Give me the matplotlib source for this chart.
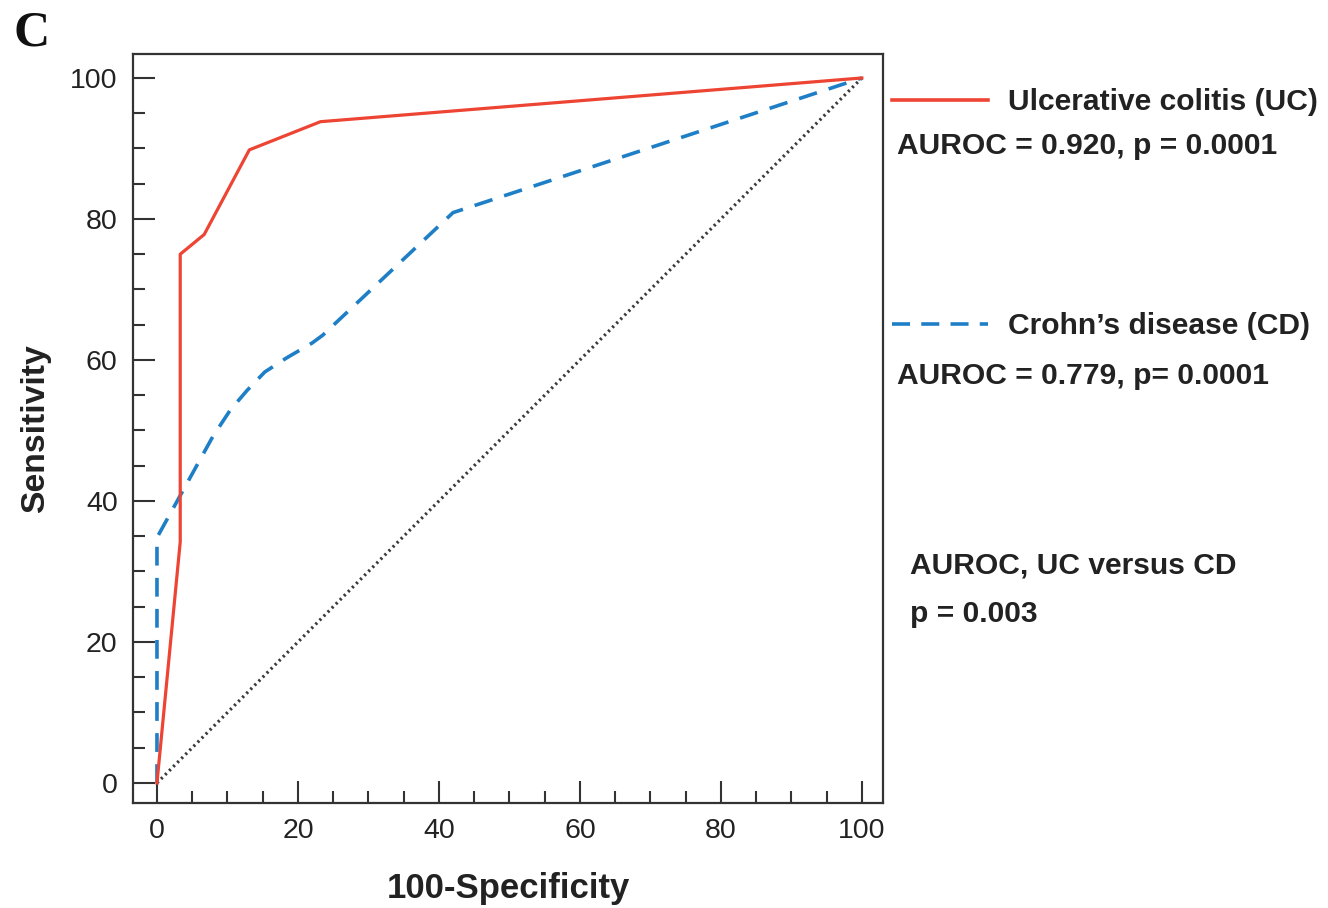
import matplotlib
matplotlib.use("Agg")
import matplotlib.pyplot as plt
from matplotlib.lines import Line2D
from matplotlib.ticker import MultipleLocator

# ---- data ----
uc_x = [0, 3.3, 3.3, 6.7, 13.1, 23.2, 100]
uc_y = [0, 34.2, 75.0, 77.8, 89.8, 93.8, 100]

cd_x = [0, 0, 7.9, 10.4, 12.8, 15.3, 18.4, 22.0, 23.5, 42.0, 100]
cd_y = [0, 34.8, 49.1, 52.9, 55.7, 58.3, 60.3, 62.4, 63.5, 80.9, 100]

ref_x = [0, 100]
ref_y = [0, 100]

x_ticks = [0, 20, 40, 60, 80, 100]
y_ticks = [0, 20, 40, 60, 80, 100]

uc_label = "Ulcerative colitis (UC)"
uc_stat = "AUROC = 0.920, p = 0.0001"
cd_label = "Crohn\u2019s disease (CD)"
cd_stat = "AUROC = 0.779, p= 0.0001"
cmp_line1 = "AUROC, UC versus CD"
cmp_line2 = "p = 0.003"

RED = "#EE4433"
BLUE = "#1F7FC6"
DARK = "#333333"
TXT = "#222222"

plt.rcParams['font.family'] = ['Liberation Sans', 'DejaVu Sans']

W, H = 1328, 908
fig = plt.figure(figsize=(W / 100, H / 100), dpi=100)
ax = fig.add_axes([133 / W, 1 - 803 / H, (883 - 133) / W, (803 - 54) / H])

ax.plot(ref_x, ref_y, color="#3a3a3a", lw=2.3, linestyle=(0, (0.7, 1.1)), zorder=2)
ax.plot(cd_x, cd_y, color=BLUE, lw=2.6, linestyle=(0, (5.2, 3.4)), zorder=3)
ax.plot(uc_x, uc_y, color=RED, lw=2.3, zorder=4)

ax.set_xlim(-3.4, 103.0)
ax.set_ylim(-2.84, 103.4)

ax.set_xticks(x_ticks)
ax.set_yticks(y_ticks)
ax.xaxis.set_minor_locator(MultipleLocator(5))
ax.yaxis.set_minor_locator(MultipleLocator(5))
ax.tick_params(which="major", direction="in", length=16, width=1.5, color=DARK,
               labelsize=20.5, labelcolor=TXT, pad=11)
ax.tick_params(which="minor", direction="in", length=8.5, width=1.5, color=DARK)
ax.tick_params(top=False, right=False, which="both")
for s in ax.spines.values():
    s.set_color(DARK)
    s.set_linewidth(1.6)

ax.set_xlabel("100-Specificity", fontsize=25, fontweight="bold", color=TXT, labelpad=20)
ax.set_ylabel("Sensitivity", fontsize=24.3, fontweight="bold", color=TXT, labelpad=14)

# panel letter
fig.text(14 / W, 1 - 33 / H, "C", fontsize=36, fontweight="bold",
         family=["Liberation Serif", "DejaVu Serif"],
         color="#111111", va="center", ha="left")

# legend-like annotations
fig.add_artist(Line2D([892 / W, 988 / W], [1 - 100 / H, 1 - 100 / H],
                      color=RED, lw=2.6, transform=fig.transFigure))
fig.add_artist(Line2D([892 / W, 988 / W], [1 - 324 / H, 1 - 324 / H],
                      color=BLUE, lw=2.6, linestyle=(0, (5.0, 3.1)),
                      transform=fig.transFigure))

def ftxt(x, y, s):
    fig.text(x / W, 1 - y / H, s, fontsize=21.6, fontweight="bold", color=TXT,
             ha="left", va="center")

ftxt(1008, 102, uc_label)
ftxt(897, 146, uc_stat)
ftxt(1008, 326, cd_label)
ftxt(897, 376, cd_stat)
ftxt(910, 565, cmp_line1)
ftxt(910, 614, cmp_line2)

fig.savefig("out.png", dpi=100, facecolor="white")
